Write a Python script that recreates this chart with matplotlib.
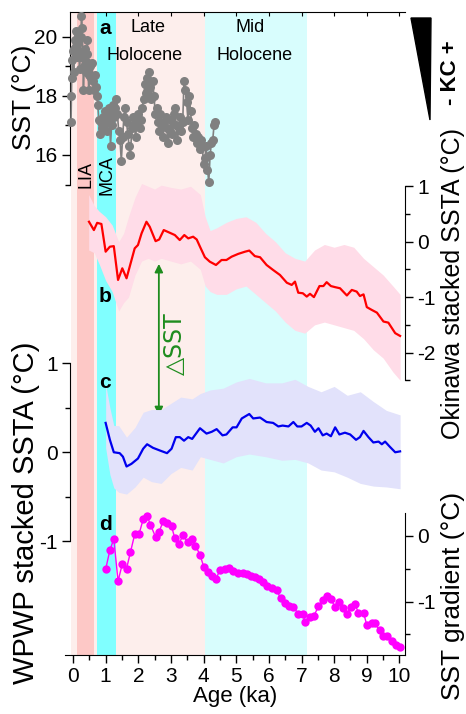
import matplotlib
matplotlib.use("Agg")
import matplotlib.pyplot as plt
from matplotlib.patches import Polygon

plt.rcParams["font.family"] = ["Liberation Sans", "DejaVu Sans"]
plt.rcParams["axes.unicode_minus"] = False

# ---- data ----
age_a = [-0.06, -0.05, -0.04, -0.02, 0.00, 0.02, 0.04, 0.06, 0.08, 0.10, 0.12, 0.14, 0.16, 0.18,
         0.20, 0.22, 0.24, 0.26, 0.28, 0.30, 0.32, 0.34, 0.36, 0.38, 0.40, 0.42, 0.44, 0.46,
         0.48, 0.50, 0.52, 0.55, 0.58, 0.61, 0.64, 0.67, 0.70, 0.73, 0.76, 0.79, 0.82, 0.85,
         0.88, 0.91, 0.94, 0.97, 1.00, 1.03, 1.06, 1.09, 1.12, 1.15, 1.18, 1.21, 1.24, 1.27,
         1.30, 1.33, 1.36, 1.40, 1.44, 1.48, 1.52, 1.56, 1.60, 1.64, 1.68, 1.72, 1.76, 1.80,
         1.84, 1.88, 1.92, 1.96, 2.00, 2.04, 2.08, 2.12, 2.16, 2.20, 2.24, 2.28, 2.32, 2.36,
         2.40, 2.44, 2.48, 2.52, 2.56, 2.60, 2.64, 2.68, 2.72, 2.76, 2.80, 2.84, 2.88, 2.92,
         2.96, 3.00, 3.04, 3.08, 3.12, 3.16, 3.20, 3.24, 3.28, 3.32, 3.36, 3.40, 3.44, 3.48,
         3.52, 3.56, 3.60, 3.64, 3.68, 3.72, 3.76, 3.80, 3.84, 3.88, 3.92, 3.96, 4.00, 4.04,
         4.08, 4.12, 4.16, 4.20, 4.24, 4.28, 4.32, 4.36]
sst_a = [17.1, 18.0, 18.6, 19.2, 19.5, 18.8, 19.6, 19.9, 20.2, 19.7, 19.3, 19.8, 20.1, 19.4,
         18.9, 19.3, 20.0, 20.7, 20.3, 19.5, 18.2, 19.0, 19.6, 19.2, 18.8, 19.4, 19.9, 19.1,
         18.2, 18.7, 19.0, 18.6, 19.1, 18.5, 18.2, 18.7, 18.3, 18.0, 17.7, 17.2, 16.7, 17.1,
         16.9, 17.3, 17.0, 17.5, 17.2, 16.8, 17.4, 17.6, 17.1, 16.3, 17.0, 17.5, 17.7, 17.3,
         17.6, 17.9, 17.4, 16.8, 16.5, 15.8, 16.6, 17.3, 17.6, 17.1, 16.7, 16.3, 16.0, 16.9,
         17.3, 17.0, 16.6, 17.2, 17.4, 16.9, 17.2, 17.6, 17.9, 18.4, 18.1, 18.6, 18.8, 18.3,
         17.9, 18.5, 18.0, 17.4, 17.6, 17.1, 16.8, 17.4, 17.0, 16.6, 17.1, 17.3, 16.9, 16.4,
         16.8, 17.2, 16.7, 17.4, 17.6, 17.0, 16.5, 16.9, 17.3, 16.8, 17.1, 18.5, 18.2, 17.8,
         17.2, 18.0, 17.5, 16.9, 16.6, 17.0, 16.7, 16.4, 16.6, 16.2, 16.5, 16.3, 15.7, 15.9,
         16.3, 15.5, 15.1, 16.0, 16.4, 16.5, 17.0, 17.1]

age_b = [0.49, 0.64, 0.74, 0.87, 1.00, 1.13, 1.25, 1.38, 1.51, 1.64, 1.89, 1.99, 2.10, 2.25,
         2.35, 2.53, 2.64, 2.78, 2.97, 3.12, 3.27, 3.41, 3.53, 3.68, 3.79, 3.89, 4.04, 4.19,
         4.38, 4.55, 4.70, 4.86, 5.06, 5.27, 5.40, 5.57, 5.73, 5.93, 6.13, 6.34, 6.55, 6.70,
         6.80, 6.90, 7.04, 7.16, 7.26, 7.38, 7.55, 7.67, 7.77, 7.90, 8.03, 8.18, 8.39, 8.54,
         8.69, 8.79, 8.90, 9.00, 9.15, 9.31, 9.51, 9.66, 9.87, 10.02]
ssta_b = [0.36, 0.21, 0.34, 0.32, -0.18, -0.09, -0.08, -0.69, -0.48, -0.66, -0.12, -0.06, 0.15,
          0.36, 0.27, 0.01, 0.04, 0.21, 0.16, 0.12, 0.03, 0.12, 0.06, 0.09, 0.04, -0.09, -0.28,
          -0.36, -0.42, -0.33, -0.33, -0.27, -0.22, -0.18, -0.16, -0.26, -0.28, -0.42, -0.51,
          -0.60, -0.74, -0.78, -0.72, -0.92, -0.93, -0.99, -0.94, -1.00, -0.80, -0.80, -0.73,
          -0.80, -0.82, -0.84, -0.97, -0.87, -0.90, -0.98, -0.95, -1.18, -1.23, -1.28, -1.44,
          -1.46, -1.65, -1.70]
band_age_b = [0.48, 0.65, 0.8, 1.0, 1.2, 1.4, 1.55, 1.7, 1.9, 2.1, 2.3, 2.5, 2.7, 3.0, 3.3, 3.6,
              3.9, 4.05, 4.2, 4.4, 4.7, 5.0, 5.3, 5.6, 5.9, 6.2, 6.5, 6.8, 7.1, 7.4, 7.7, 8.0,
              8.3, 8.6, 8.9, 9.2, 9.5, 9.8, 10.02]
upper_b = [0.85, 0.65, 0.55, 0.45, 0.3, 0.0, 0.15, 0.45, 0.8, 1.05, 1.0, 0.95, 1.02, 0.98, 0.95,
           1.0, 0.85, 0.45, 0.2, 0.25, 0.35, 0.42, 0.45, 0.35, 0.15, 0.0, -0.2, -0.3, -0.35,
           -0.15, -0.05, -0.1, -0.05, -0.1, -0.3, -0.45, -0.6, -0.8, -0.95]
lower_b = [-0.15, -0.2, -0.4, -0.7, -0.9, -1.25, -1.1, -1.0, -0.6, -0.35, -0.3, -0.35, -0.3,
           -0.35, -0.4, -0.35, -0.5, -0.8, -0.9, -0.95, -0.95, -0.85, -0.8, -0.95, -1.1, -1.25,
           -1.45, -1.6, -1.65, -1.5, -1.45, -1.5, -1.55, -1.6, -1.75, -1.95, -2.1, -2.35, -2.5]

age_c = [1.00, 1.13, 1.25, 1.43, 1.53, 1.64, 1.79, 1.99, 2.15, 2.27, 2.45, 2.66, 2.88, 3.02,
         3.15, 3.27, 3.40, 3.53, 3.65, 3.89, 4.09, 4.25, 4.40, 4.58, 4.70, 4.89, 5.01, 5.17,
         5.40, 5.52, 5.73, 5.93, 6.13, 6.29, 6.42, 6.60, 6.75, 6.87, 7.00, 7.16, 7.28, 7.41,
         7.52, 7.65, 7.77, 7.90, 8.03, 8.16, 8.33, 8.49, 8.67, 8.79, 8.90, 9.05, 9.20, 9.36,
         9.46, 9.56, 9.71, 9.87, 10.02]
ssta_c = [0.33, 0.14, 0.00, -0.01, -0.05, -0.16, -0.13, -0.07, 0.04, 0.09, 0.05, 0.02, -0.01,
          0.04, 0.17, 0.17, 0.13, 0.17, 0.15, 0.27, 0.21, 0.23, 0.26, 0.19, 0.20, 0.28, 0.28,
          0.38, 0.43, 0.38, 0.39, 0.34, 0.33, 0.29, 0.30, 0.29, 0.34, 0.29, 0.29, 0.33, 0.30,
          0.23, 0.27, 0.19, 0.21, 0.18, 0.28, 0.20, 0.22, 0.20, 0.14, 0.17, 0.24, 0.17, 0.11,
          0.12, 0.09, 0.12, 0.06, 0.00, 0.01]
band_age_c = [1.0, 1.13, 1.25, 1.4, 1.64, 1.9, 2.15, 2.4, 2.7, 3.0, 3.3, 3.65, 3.9, 4.2, 4.6,
              5.0, 5.4, 5.9, 6.4, 6.8, 7.2, 7.6, 8.0, 8.4, 8.8, 9.2, 9.6, 10.02]
upper_c = [0.76, 0.5, 0.3, 0.3, 0.17, 0.28, 0.45, 0.48, 0.48, 0.55, 0.62, 0.6, 0.66, 0.7, 0.72,
           0.79, 0.83, 0.78, 0.78, 0.82, 0.74, 0.68, 0.74, 0.64, 0.68, 0.57, 0.47, 0.42]
lower_c = [0.05, -0.25, -0.4, -0.45, -0.47, -0.39, -0.28, -0.33, -0.35, -0.24, -0.17, -0.2,
           -0.05, -0.08, -0.12, -0.05, -0.02, -0.05, -0.09, -0.08, -0.12, -0.2, -0.22, -0.28,
           -0.35, -0.38, -0.39, -0.41]

age_d = [1.00, 1.13, 1.25, 1.38, 1.51, 1.64, 1.76, 1.89, 2.02, 2.15, 2.27, 2.37, 2.53, 2.64,
         2.76, 2.88, 3.02, 3.12, 3.25, 3.37, 3.51, 3.63, 3.75, 3.89, 4.01, 4.14, 4.26, 4.38,
         4.50, 4.65, 4.78, 4.91, 5.06, 5.20, 5.32, 5.44, 5.57, 5.70, 5.83, 5.95, 6.10, 6.24,
         6.36, 6.49, 6.63, 6.75, 6.90, 7.04, 7.11, 7.26, 7.38, 7.52, 7.65, 7.77, 7.90, 8.03,
         8.15, 8.28, 8.39, 8.51, 8.64, 8.74, 8.90, 9.00, 9.15, 9.25, 9.39, 9.51, 9.63, 9.77,
         9.90, 10.02]
grad_d = [-0.51, -0.22, -0.05, -0.69, -0.43, -0.50, -0.25, 0.02, 0.02, 0.25, 0.30, 0.17, -0.02,
          0.06, 0.22, 0.19, 0.14, -0.04, -0.12, 0.01, -0.10, -0.05, -0.15, -0.29, -0.48, -0.55,
          -0.61, -0.66, -0.52, -0.51, -0.49, -0.53, -0.56, -0.57, -0.58, -0.61, -0.63, -0.66,
          -0.71, -0.76, -0.80, -0.83, -0.95, -1.02, -1.07, -1.08, -1.19, -1.19, -1.31, -1.24,
          -1.22, -1.07, -0.97, -0.91, -0.96, -1.09, -1.01, -1.10, -1.19, -1.08, -1.04, -1.17,
          -1.17, -1.36, -1.32, -1.33, -1.44, -1.52, -1.53, -1.60, -1.66, -1.69]

# background periods (ka)
late_holo = (-0.07, 4.05)
lia = (0.12, 0.64)
mca = (0.73, 1.31)
mid_holo = (4.05, 7.16)

# ---- layout ----
W, H = 466, 714
fig = plt.figure(figsize=(W / 100, H / 100), dpi=100)
rect = [65 / W, 1 - 655 / H, 340 / W, 643 / H]
x0, x1 = -0.245, 10.17
maj, mnr = 5.8, 3.6

ax = fig.add_axes(rect)
ax.set_xlim(x0, x1)
ax.set_ylim(0, 1)
ax.axvspan(*late_holo, color="#fdeeec", lw=0, zorder=0)
ax.axvspan(*lia, color="#fdc8c6", lw=0, zorder=0)
ax.axvspan(*mca, color="#80ffff", lw=0, zorder=0)
ax.axvspan(*mid_holo, color="#d8fdfd", lw=0, zorder=0)
for s in ("left", "right"):
    ax.spines[s].set_visible(False)
ax.spines["top"].set_bounds(-0.1, x1)
ax.set_yticks([])
ax.set_xticks(range(0, 11))
ax.set_xticks([i + 0.5 for i in range(10)], minor=True)
ax.tick_params(axis="x", which="major", direction="out", length=maj, width=1, labelsize=15, pad=3)
ax.tick_params(axis="x", which="minor", direction="out", length=mnr, width=1)
ax.set_xlabel("Age (ka)", fontsize=16, labelpad=0)
# small inward ticks on the top spine
top = ax.secondary_xaxis("top")
top.set_xticks(range(1, 11))
top.tick_params(direction="in", length=3, labeltop=False)
top.spines["top"].set_visible(False)


def panel(ylim, side, bounds, major, minor):
    a = fig.add_axes(rect, facecolor="none")
    a.set_xlim(x0, x1)
    a.set_ylim(*ylim)
    for s in a.spines.values():
        s.set_visible(False)
    a.spines[side].set_visible(True)
    a.spines[side].set_bounds(*bounds)
    if side == "left":
        a.spines["left"].set_position(("data", -0.1))
    a.yaxis.set_ticks_position(side)
    a.yaxis.set_label_position(side)
    a.set_yticks(major)
    a.set_yticks(minor, minor=True)
    a.xaxis.set_visible(False)
    a.tick_params(axis="y", which="major", direction="out", length=maj, width=1, labelsize=15, pad=3)
    a.tick_params(axis="y", which="minor", direction="out", length=mnr, width=1)
    return a


axa = panel((-0.906, 20.835), "left", (15, 20.835), [16, 18, 20], [15, 17, 19])
axb = panel((-7.456, 4.144), "right", (-2.5, 1.0), [-2, -1, 0, 1], [-2.5, -1.5, -0.5, 0.5])
axc = panel((-2.278, 4.947), "left", (-1, 1), [-1, 0, 1], [-0.5, 0.5])
axd = panel((-1.813, 7.959), "right", (-1.813, 0.345), [-1, 0], [-1.5, -0.5])

axa.plot(age_a, sst_a, color="#808080", lw=1.2, marker="o", ms=6.5, mec="none", zorder=3)

axb.fill_between(band_age_b, lower_b, upper_b, color="#ffdce8", lw=0, zorder=1)
axb.plot(age_b, ssta_b, color="red", lw=1.6, zorder=2)

axc.fill_between(band_age_c, lower_c, upper_c, color="#e2e2fb", lw=0, zorder=1)
axc.plot(age_c, ssta_c, color="#0000ee", lw=1.6, zorder=2)

axd.plot(age_d, grad_d, color="#ff00ff", lw=1.0, marker="o", ms=6, mec="none", zorder=3)

# axis labels
fig.text(24 / W, 1 - 97 / H, "SST (°C)", rotation=90, fontsize=19, ha="center", va="center")
fig.text(26 / W, 1 - 513 / H, "WPWP stacked SSTA (°C)", rotation=90, fontsize=21,
         ha="center", va="center")
fig.text(453 / W, 1 - 284 / H, "Okinawa stacked SSTA (°C)", rotation=90, fontsize=18,
         ha="center", va="center")
fig.text(453 / W, 1 - 596 / H, "SST gradient (°C)", rotation=90, fontsize=19,
         ha="center", va="center")

# panel letters and period names
for letter, yy in (("a", 28), ("b", 296), ("c", 382), ("d", 524)):
    fig.text(105 / W, 1 - yy / H, letter, fontsize=15, fontweight="bold", ha="center", va="center")
fig.text(148 / W, 1 - 27 / H, "Late", fontsize=13, ha="center", va="center")
fig.text(145 / W, 1 - 55 / H, "Holocene", fontsize=13, ha="center", va="center")
fig.text(250 / W, 1 - 27 / H, "Mid", fontsize=13, ha="center", va="center")
fig.text(255 / W, 1 - 55 / H, "Holocene", fontsize=13, ha="center", va="center")
fig.text(86 / W, 1 - 175 / H, "LIA", rotation=90, fontsize=13, ha="center", va="center")
fig.text(107 / W, 1 - 175 / H, "MCA", rotation=90, fontsize=13, ha="center", va="center")

# delta SST arrow
axb.annotate("", xy=(2.63, -0.40), xytext=(2.63, -3.13),
             arrowprops=dict(arrowstyle="<|-|>", color="#1e8c1e", lw=1.3,
                             mutation_scale=12, shrinkA=0, shrinkB=0))
axb.text(3.12, -1.83, "△SST", rotation=90, fontsize=17, color="#1e8c1e",
         ha="center", va="center", family=["DejaVu Sans", "Liberation Sans"])

# Kuroshio current wedge
tri = [(411, 18), (431, 18), (430, 120)]
fig.patches.append(Polygon([(x / W, 1 - y / H) for x, y in tri], closed=True,
                           transform=fig.transFigure, color="black"))
fig.text(450 / W, 1 - 73 / H, "- KC +", rotation=90, fontsize=16, fontweight="bold",
         ha="center", va="center")

fig.savefig("out.png", dpi=100)
